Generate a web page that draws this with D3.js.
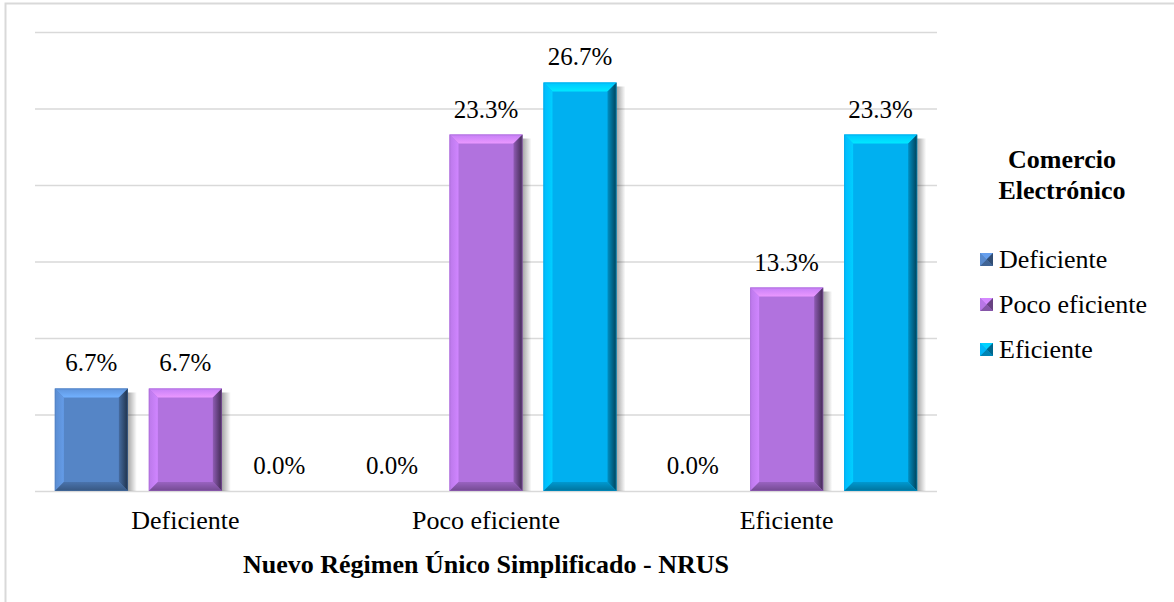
<!DOCTYPE html>
<html>
<head>
<meta charset="utf-8">
<script src="https://cdn.jsdelivr.net/npm/d3@7"></script>
<style>
  html, body { margin: 0; padding: 0; background: #fff; }
</style>
</head>
<body>
<svg id="chart" width="1174" height="602"></svg>
<script>
// Categories on the x axis (NRUS rating) and series (e-commerce rating)
const categories = ["Deficiente", "Poco eficiente", "Eficiente"];
const seriesNames = ["Deficiente", "Poco eficiente", "Eficiente"];
const deficienteValues = [6.7, 0.0, 0.0];
const pocoEficienteValues = [6.7, 23.3, 13.3];
const eficienteValues = [0.0, 26.7, 23.3];
const yTicks = [0, 5, 10, 15, 20, 25, 30];
const seriesColors = ["#5585c6", "#b172de", "#00b0f0"];
const xTitle = "Nuevo Régimen Único Simplificado - NRUS";
const legendTitle = ["Comercio", "Electrónico"];

const seriesValues = [deficienteValues, pocoEficienteValues, eficienteValues];
const FONT = "'Times New Roman', Times, Tinos, 'Noto Serif', 'Liberation Serif', 'DejaVu Serif', serif";

const svg = d3.select("#chart");
const defs = svg.append("defs");

// Outer frame
svg.append("path")
  .attr("d", "M5.5,602 L5.5,3.5 L1174,3.5")
  .attr("fill", "none").attr("stroke", "#d9d9d9").attr("stroke-width", 2);

const plot = { left: 35, right: 937, top: 32, bottom: 491 };

const y = d3.scaleLinear().domain([0, 30]).range([plot.bottom, plot.top]);
const x0 = d3.scaleBand().domain(categories).range([plot.left, plot.right]);
const x1 = d3.scaleBand().domain(seriesNames).range([0, x0.bandwidth()])
  .paddingInner(0.223).paddingOuter(0.211);

// Gridlines
svg.append("g").selectAll("line").data(yTicks).join("line")
  .attr("x1", plot.left).attr("x2", plot.right)
  .attr("y1", d => y(d) + 0.5).attr("y2", d => y(d) + 0.5)
  .attr("stroke", "#d9d9d9").attr("stroke-width", 1.6);

// Gradients for the bevel shading
seriesColors.forEach((c, i) => {
  const base = d3.rgb(c);
  const rg = defs.append("linearGradient").attr("id", "right" + i)
    .attr("x1", 0).attr("x2", 1).attr("y1", 0).attr("y2", 0);
  rg.append("stop").attr("offset", "0%").attr("stop-color", base.darker(0.6));
  rg.append("stop").attr("offset", "100%").attr("stop-color", base.darker(2.8));
  const lg = defs.append("linearGradient").attr("id", "left" + i)
    .attr("x1", 0).attr("x2", 1).attr("y1", 0).attr("y2", 0);
  lg.append("stop").attr("offset", "0%").attr("stop-color", base.brighter(0.15));
  lg.append("stop").attr("offset", "100%").attr("stop-color", base.brighter(0.45));
  const tg = defs.append("linearGradient").attr("id", "top" + i)
    .attr("x1", 0).attr("x2", 0).attr("y1", 0).attr("y2", 1);
  tg.append("stop").attr("offset", "0%").attr("stop-color", base.brighter(0.3));
  tg.append("stop").attr("offset", "100%").attr("stop-color", base.brighter(0.8));
  const bg = defs.append("linearGradient").attr("id", "bottom" + i)
    .attr("x1", 0).attr("x2", 0).attr("y1", 0).attr("y2", 1);
  bg.append("stop").attr("offset", "0%").attr("stop-color", base.darker(0.4));
  bg.append("stop").attr("offset", "100%").attr("stop-color", base.darker(1.2));
});
const sg = defs.append("linearGradient").attr("id", "shadow")
  .attr("x1", 0).attr("x2", 1).attr("y1", 0).attr("y2", 0);
sg.append("stop").attr("offset", "0%").attr("stop-color", "#000").attr("stop-opacity", 0.35);
sg.append("stop").attr("offset", "100%").attr("stop-color", "#000").attr("stop-opacity", 0);

function bevelBar(g, bx, by, w, h, i, b) {
  if (h <= 0) return;
  const bb = Math.min(b, h / 2, w / 2);
  // soft drop shadow on the right
  g.append("rect").attr("x", bx + w).attr("y", by + 4).attr("width", 9).attr("height", h - 4)
    .attr("fill", "url(#shadow)");
  g.append("rect").attr("x", bx).attr("y", by).attr("width", w).attr("height", h)
    .attr("fill", seriesColors[i]);
  const x2 = bx + w, y2 = by + h;
  const poly = (pts, fill) => g.append("polygon")
    .attr("points", pts.map(p => p.join(",")).join(" ")).attr("fill", fill);
  poly([[bx, by], [x2, by], [x2 - bb, by + bb], [bx + bb, by + bb]], `url(#top${i})`);
  poly([[bx, by], [bx + bb, by + bb], [bx + bb, y2 - bb], [bx, y2]], `url(#left${i})`);
  poly([[x2, by], [x2, y2], [x2 - bb, y2 - bb], [x2 - bb, by + bb]], `url(#right${i})`);
  poly([[bx, y2], [bx + bb, y2 - bb], [x2 - bb, y2 - bb], [x2, y2]], `url(#bottom${i})`);
  g.append("rect").attr("x", bx + 0.5).attr("y", by + 0.5).attr("width", w - 1).attr("height", h - 1)
    .attr("fill", "none").attr("stroke", d3.rgb(seriesColors[i]).darker(0.3)).attr("stroke-opacity", 0.4);
}

// Bars and value labels
const groups = svg.append("g").selectAll("g").data(categories).join("g")
  .attr("transform", d => `translate(${x0(d)},0)`);

groups.each(function(cat, ci) {
  const g = d3.select(this);
  seriesNames.forEach((s, si) => {
    const v = seriesValues[si][ci];
    const bx = x1(s), w = x1.bandwidth();
    bevelBar(g, bx, y(v), w, y(0) - y(v), si, 9);
    g.append("text")
      .attr("x", bx + w / 2).attr("y", y(v) - 17)
      .attr("text-anchor", "middle").style("font-family", FONT).attr("font-size", 25).attr("fill", "#000")
      .text(v.toFixed(1) + "%");
  });
});

// Category axis labels
svg.append("g").selectAll("text").data(categories).join("text")
  .attr("x", d => x0(d) + x0.bandwidth() / 2).attr("y", 529)
  .attr("text-anchor", "middle").style("font-family", FONT).attr("font-size", 26).attr("fill", "#000")
  .text(d => d);

// Axis title
svg.append("text")
  .attr("x", (plot.left + plot.right) / 2).attr("y", 573)
  .attr("text-anchor", "middle").style("font-family", FONT).attr("font-size", 26).attr("font-weight", "bold")
  .text(xTitle);

// Legend
const legend = svg.append("g");
legend.selectAll("text.title").data(legendTitle).join("text")
  .attr("class", "title")
  .attr("x", 1062).attr("y", (d, i) => 168 + i * 31)
  .attr("text-anchor", "middle").style("font-family", FONT).attr("font-size", 26).attr("font-weight", "bold")
  .text(d => d);

seriesNames.forEach((s, i) => {
  const ly = 268 + i * 45;
  const sq = legend.append("g");
  const sx = 980, sy = ly - 15, ss = 13;
  sq.append("rect").attr("x", sx).attr("y", sy).attr("width", ss).attr("height", ss)
    .attr("fill", seriesColors[i]);
  const c = d3.rgb(seriesColors[i]);
  const cx = sx + ss / 2, cy = sy + ss / 2;
  const tri = (pts, fill) => sq.append("polygon").attr("points", pts.map(p => p.join(",")).join(" ")).attr("fill", fill);
  tri([[sx, sy], [sx + ss, sy], [cx, cy]], c.brighter(0.5));
  tri([[sx + ss, sy], [sx + ss, sy + ss], [cx, cy]], c.darker(1.5));
  tri([[sx, sy + ss], [sx + ss, sy + ss], [cx, cy]], c.darker(0.8));
  tri([[sx, sy], [sx, sy + ss], [cx, cy]], c.brighter(0.1));
  legend.append("text").attr("x", 999).attr("y", ly)
    .style("font-family", FONT).attr("font-size", 26).attr("fill", "#000").text(s);
});
</script>
</body>
</html>
